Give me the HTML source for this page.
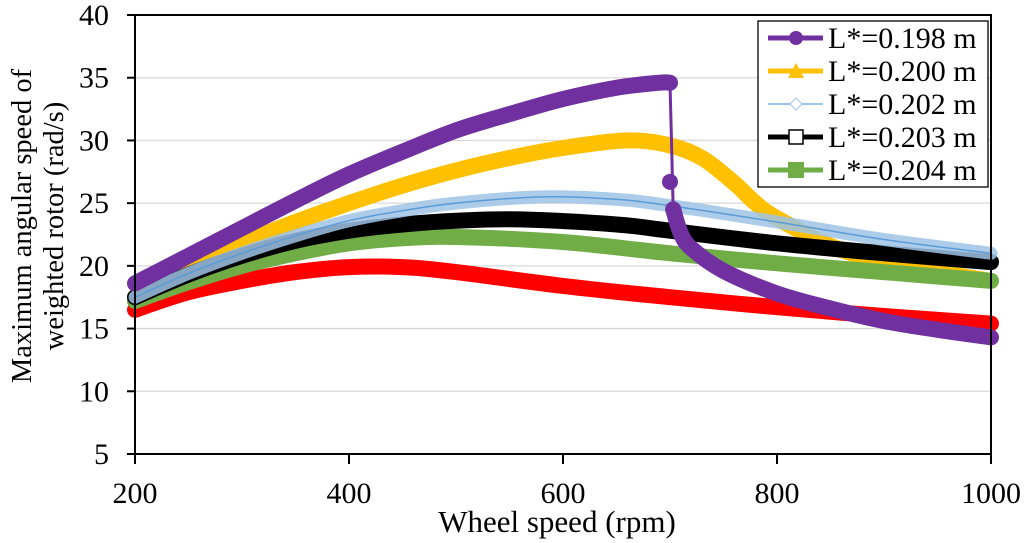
<!DOCTYPE html>
<html><head><meta charset="utf-8"><style>
html,body{margin:0;padding:0;background:#fff;}
svg{display:block;font-family:"Liberation Serif",serif;}
</style></head><body>
<svg id="chart" width="1024" height="543" viewBox="0 0 1024 543"></svg>
<script>
const xTicks=[200,400,600,800,1000];
const yTicks=[5,10,15,20,25,30,35,40];
const s198x=[200,250,300,350,400,450,500,550,600,650,690,700,700,703,710,720,750,800,850,900,950,1000];
const s198y=[18.6,20.8,23,25.2,27.3,29.1,30.8,32.1,33.3,34.2,34.6,34.6,26.7,24.5,22.6,21.4,19.6,17.8,16.6,15.6,14.9,14.3];
const s200x=[200,250,300,350,400,450,500,550,600,660,700,730,760,780,800,850,900,950,1000];
const s200y=[17.5,19.8,21.8,23.5,25,26.4,27.6,28.6,29.4,30,29.6,28.6,26.6,25,23.8,21.6,20.3,19.5,18.8];
const s202x=[200,250,300,350,400,450,500,580,650,700,800,900,1000];
const s202y=[17.5,19.4,21,22.4,23.6,24.4,25,25.5,25.3,24.8,23.5,22.1,21];
const s203x=[200,250,300,350,400,450,500,560,650,700,800,900,1000];
const s203y=[17.5,19.3,20.8,22,22.8,23.3,23.6,23.7,23.3,22.8,21.8,21,20.3];
const s204x=[200,250,300,350,400,450,500,600,700,800,900,1000];
const s204y=[17.2,18.7,20,21,21.8,22.2,22.3,21.9,21,20.2,19.5,18.8];
const sRedx=[200,250,300,350,400,450,500,600,700,800,900,1000];
const sRedy=[16.5,17.9,18.8,19.5,19.9,19.9,19.5,18.4,17.5,16.7,16,15.4];
const legendLabels=["L*=0.198 m","L*=0.200 m","L*=0.202 m","L*=0.203 m","L*=0.204 m"];

const NS="http://www.w3.org/2000/svg";
const svg=document.getElementById('chart');
const X0=135,X1=991,Y0=454,Y1=15;
function xs(v){return X0+(v-200)/800*(X1-X0);}
function ys(v){return Y0-(v-5)/35*(Y0-Y1);}
function mk(tag,attrs,parent){const e=document.createElementNS(NS,tag);for(const k in attrs)e.setAttribute(k,attrs[k]);(parent||svg).appendChild(e);return e;}

yTicks.forEach(t=>{
  if(t===5||t===40)return;
  const g=mk('line',{x1:X0,x2:X1,y1:ys(t),y2:ys(t),stroke:'#d9d9d9','stroke-width':1.3});
  
  
});
function pathD(xa,ya){
  const p=xa.map((x,i)=>[xs(x),ys(ya[i])]);
  let d='M'+p[0][0].toFixed(1)+' '+p[0][1].toFixed(1);
  for(let i=0;i<p.length-1;i++){
    const a=p[Math.max(0,i-1)],b=p[i],c=p[i+1],e=p[Math.min(p.length-1,i+2)];
    const c1=[b[0]+(c[0]-a[0])/6,b[1]+(c[1]-a[1])/6];
    const c2=[c[0]-(e[0]-b[0])/6,c[1]-(e[1]-b[1])/6];
    d+=` C${c1[0].toFixed(1)} ${c1[1].toFixed(1)} ${c2[0].toFixed(1)} ${c2[1].toFixed(1)} ${c[0].toFixed(1)} ${c[1].toFixed(1)}`;
  }
  return d;
}
function series(name,xa,ya,color,w){
  const p=mk('path',{d:pathD(xa,ya),fill:'none',stroke:color,'stroke-width':w,'stroke-linejoin':'round','stroke-linecap':'round'});
  
  
  return p;
}
series('series-0.200',s200x,s200y,'#ffc000',16);
series('series-red',sRedx,sRedy,'#ff0000',16);
series('series-0.204',s204x,s204y,'#70ad47',16);
series('series-0.203',s203x,s203y,'#000000',16);
const b=series('series-0.202-band',s202x,s202y,'#9dc3e6',13);
b.setAttribute('stroke-opacity','0.85');
series('series-0.202',s202x,s202y,'#5b9bd5',1.5);
const iDrop=11;
series('series-0.198-upper',s198x.slice(0,iDrop+1),s198y.slice(0,iDrop+1),'#7030a0',16);
const dp=mk('path',{d:`M${xs(s198x[iDrop])} ${ys(s198y[iDrop])} L${xs(s198x[iDrop+2])} ${ys(s198y[iDrop+2])}`,stroke:'#7030a0','stroke-width':3,fill:'none'});


series('series-0.198-lower',s198x.slice(iDrop+2),s198y.slice(iDrop+2),'#7030a0',16);
[iDrop+1,iDrop+2].forEach(i=>{
  const c=mk('circle',{cx:xs(s198x[i]),cy:ys(s198y[i]),r:8,fill:'#7030a0'});
  
  
});

const fr=mk('rect',{x:X0,y:Y1,width:X1-X0,height:Y0-Y1,fill:'none',stroke:'#000','stroke-width':2});


yTicks.forEach(t=>{
  mk('line',{x1:X0-8,x2:X0,y1:ys(t),y2:ys(t),stroke:'#000','stroke-width':2});
  const tx=mk('text',{x:X0-26,y:ys(t)+10,'text-anchor':'end','font-size':30});
  tx.textContent=t;
  
  
});
xTicks.forEach(t=>{
  mk('line',{x1:xs(t),x2:xs(t),y1:Y0,y2:Y0+10,stroke:'#000','stroke-width':2});
  const tx=mk('text',{x:xs(t),y:503,'text-anchor':'middle','font-size':30});
  tx.textContent=t;
  
  
});
const xt=mk('text',{x:557,y:532,'text-anchor':'middle','font-size':31});
xt.textContent='Wheel speed (rpm)';


const yt=mk('text',{transform:'translate(0,226) rotate(-90)','text-anchor':'middle','font-size':28.5});


const t1=mk('tspan',{x:0,y:31},yt);t1.textContent='Maximum angular speed of';
const t2=mk('tspan',{x:0,y:63},yt);t2.textContent='weighted rotor (rad/s)';

const lg=mk('g',{});


mk('rect',{x:758,y:21,width:230,height:166,fill:'#fff',stroke:'#000','stroke-width':1.3},lg);
const lcol=['#7030a0','#ffc000','#9dc3e6','#000000','#70ad47'];
const lw=[5,5,2,5,5];
legendLabels.forEach((l,i)=>{
  const y=38+i*33;
  const e=mk('g',{},lg);
  
  
  mk('line',{x1:768,x2:823,y1:y,y2:y,stroke:lcol[i],'stroke-width':lw[i]},e);
  const c=796;
  if(i===0)mk('circle',{cx:c,cy:y,r:7,fill:lcol[0]},e);
  if(i===1)mk('polygon',{points:`${c-8},${y+7} ${c+8},${y+7} ${c},${y-8}`,fill:lcol[1]},e);
  if(i===2)mk('polygon',{points:`${c},${y-6} ${c+6},${y} ${c},${y+6} ${c-6},${y}`,fill:'#fff',stroke:'#9dc3e6','stroke-width':1},e);
  if(i===3)mk('rect',{x:c-7,y:y-7,width:14,height:14,fill:'#fff',stroke:'#000','stroke-width':1.5},e);
  if(i===4)mk('rect',{x:c-8,y:y-8,width:16,height:16,fill:lcol[4]},e);
  const tx=mk('text',{x:828,y:y+10,'font-size':30},e);
  tx.textContent=l;
});
</script>
</body></html>
